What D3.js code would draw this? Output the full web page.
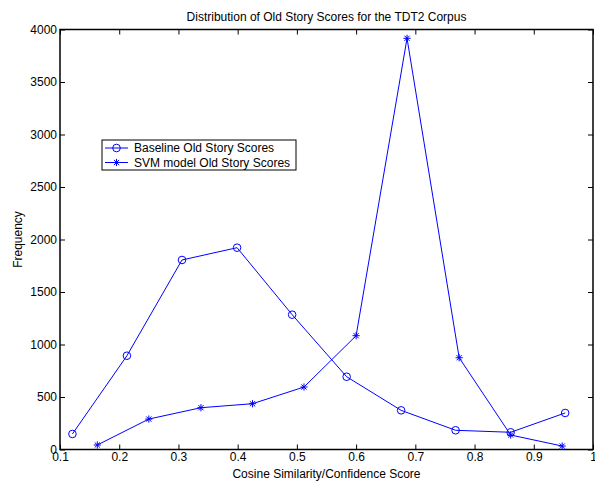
<!DOCTYPE html>
<html><head><meta charset="utf-8">
<script src="https://cdn.jsdelivr.net/npm/d3@7"></script>
<style>body{margin:0;background:#fff}svg{display:block}text{font-family:"Liberation Sans",Arial,sans-serif;fill:#000}</style>
</head><body>
<script>
const baselineX = [0.121, 0.213, 0.306, 0.399, 0.492, 0.584, 0.676, 0.768, 0.861, 0.953];
const baselineY = [148, 893, 1805, 1922, 1284, 693, 373, 183, 164, 348];
const svmX = [0.163, 0.250, 0.338, 0.425, 0.512, 0.600, 0.686, 0.774, 0.861, 0.948];
const svmY = [43, 290, 398, 436, 595, 1084, 3916, 874, 138, 33];
const xTicks = [0.1, 0.2, 0.3, 0.4, 0.5, 0.6, 0.7, 0.8, 0.9, 1];
const yTicks = [0, 500, 1000, 1500, 2000, 2500, 3000, 3500, 4000];
const seriesNames = ["Baseline Old Story Scores", "SVM model Old Story Scores"];

const W = 595, H = 482;
const m = {l: 60, r: 2, t: 29.5, b: 32.5};
const svg = d3.select("body").append("svg").attr("width", W).attr("height", H);
const x = d3.scaleLinear().domain([0.1, 1]).range([m.l, W - m.r]);
const y = d3.scaleLinear().domain([0, 4000]).range([H - m.b, m.t]);
const blue = "#0000ff";

const fs = "12px";
const gx = svg.append("g").attr("transform", `translate(0,${H - m.b})`)
  .call(d3.axisBottom(x).tickValues(xTicks).tickSize(-5).tickPadding(3).tickFormat(d => d === 1 ? "1" : d3.format(".1f")(d)));
const gxt = svg.append("g").attr("transform", `translate(0,${m.t})`)
  .call(d3.axisTop(x).tickValues(xTicks).tickSize(-5).tickFormat(""));
const gy = svg.append("g").attr("transform", `translate(${m.l},0)`)
  .call(d3.axisLeft(y).tickValues(yTicks).tickSize(-5).tickPadding(3).tickFormat(d3.format("d")));
const gyr = svg.append("g").attr("transform", `translate(${W - m.r},0)`)
  .call(d3.axisRight(y).tickValues(yTicks).tickSize(-5).tickFormat(""));
[gx, gxt, gy, gyr].forEach(g => {
  g.select(".domain").remove();
  g.selectAll("line").attr("stroke", "#000").attr("stroke-width", 1);
  g.selectAll("text").style("font-size", fs).style("font-family", '"Liberation Sans",Arial,sans-serif').attr("fill", "#000");
});
svg.append("rect").attr("x", x(0.1)).attr("y", y(4000)).attr("width", x(1) - x(0.1)).attr("height", y(0) - y(4000))
  .attr("fill", "none").attr("stroke", "#000").attr("stroke-width", 1.5);

const line = d3.line().x(d => x(d[0])).y(d => y(d[1]));
const base = baselineX.map((v, i) => [v, baselineY[i]]);
const svm = svmX.map((v, i) => [v, svmY[i]]);
svg.append("path").attr("d", line(base)).attr("fill", "none").attr("stroke", blue).attr("stroke-width", 1);
svg.append("path").attr("d", line(svm)).attr("fill", "none").attr("stroke", blue).attr("stroke-width", 1);

function circle(g, cx, cy) {
  g.append("circle").attr("cx", cx).attr("cy", cy).attr("r", 3.8).attr("fill", "none").attr("stroke", blue).attr("stroke-width", 1);
}
function star(g, cx, cy) {
  const s = 3.6, d = s * 0.72;
  const p = `M${cx - s},${cy}L${cx + s},${cy}M${cx},${cy - s}L${cx},${cy + s}M${cx - d},${cy - d}L${cx + d},${cy + d}M${cx - d},${cy + d}L${cx + d},${cy - d}`;
  g.append("path").attr("d", p).attr("stroke", blue).attr("stroke-width", 1).attr("fill", "none");
}
const mk = svg.append("g");
base.forEach(d => circle(mk, x(d[0]), y(d[1])));
svm.forEach(d => star(mk, x(d[0]), y(d[1])));

svg.append("text").attr("x", (x(0.1) + x(1)) / 2).attr("y", 21).attr("text-anchor", "middle").style("font-size", fs)
  .text("Distribution of Old Story Scores for the TDT2 Corpus");
svg.append("text").attr("x", (x(0.1) + x(1)) / 2).attr("y", 478).attr("text-anchor", "middle").style("font-size", fs)
  .text("Cosine Similarity/Confidence Score");
svg.append("text").attr("transform", `translate(22,${(y(0) + y(4000)) / 2}) rotate(-90)`).attr("text-anchor", "middle").style("font-size", fs)
  .text("Frequency");

const lg = svg.append("g");
lg.append("rect").attr("x", 102).attr("y", 140).attr("width", 194).attr("height", 30).attr("fill", "#fff").attr("stroke", "#000").attr("stroke-width", 1);
seriesNames.forEach((n, i) => {
  const yy = 148 + i * 14.5;
  lg.append("line").attr("x1", 105).attr("x2", 128).attr("y1", yy).attr("y2", yy).attr("stroke", blue).attr("stroke-width", 1);
  if (i === 0) circle(lg, 116.5, yy); else star(lg, 116.5, yy);
  lg.append("text").attr("x", 134).attr("y", yy + 4).style("font-size", fs).text(n);
});
</script>
</body></html>
